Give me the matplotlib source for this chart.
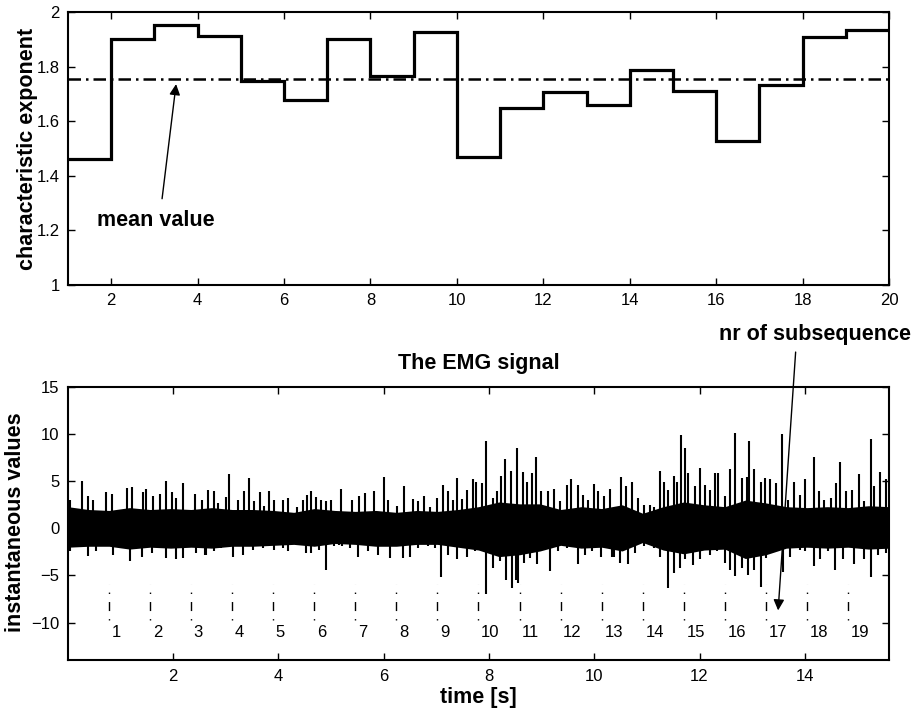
import numpy as np
import matplotlib.pyplot as plt

plt.rcParams['font.family'] = ['Liberation Sans', 'DejaVu Sans']

#characteristic exponent of each subsequence (19 steps between 1 and 20)
seq_edges = np.arange(1, 21)
alpha = [1.463, 1.902, 1.953, 1.913, 1.748, 1.676, 1.902, 1.764, 1.928, 1.470,
         1.647, 1.707, 1.660, 1.789, 1.711, 1.529, 1.731, 1.908, 1.933]

#EMG signal: dense core band plus the visible peaks
total_time = 15.6 #[s]
n_seg = 20
core_t = np.linspace(0, total_time, 41)
core_hi = [2.3, 2.0, 1.9, 2.2, 2.0, 2.1, 2.0, 2.2, 2.0, 2.0, 1.9, 1.7, 2.1, 1.9, 1.8, 1.9,
           1.7, 1.9, 1.8, 2.0, 2.3, 2.8, 2.6, 2.6, 2.0, 2.3, 2.1, 2.5, 1.6, 2.3, 2.8, 2.5,
           2.3, 3.0, 2.7, 2.3, 2.2, 2.3, 2.2, 2.4, 2.3]
core_lo = [-2.0, -1.9, -1.9, -2.2, -2.0, -2.1, -2.0, -2.1, -1.9, -1.9, -1.8, -1.7, -1.9,
           -1.6, -1.7, -1.9, -1.9, -1.7, -1.7, -2.0, -2.3, -3.0, -2.8, -2.4, -1.8, -2.1,
           -2.0, -2.4, -1.5, -2.3, -2.7, -2.3, -2.2, -3.2, -2.8, -2.1, -2.0, -2.1, -2.0,
           -2.2, -2.1]

up_t = [0.04, 0.26, 0.39, 0.48, 0.73, 0.84, 1.02, 1.13, 1.22, 1.42, 1.48, 1.61, 1.75, 1.87,
        1.97, 2.06, 2.19, 2.41, 2.54, 2.67, 2.77, 2.86, 3.00, 3.06, 3.24, 3.35, 3.44, 3.54,
        3.65, 3.73, 3.82, 3.92, 4.08, 4.19, 4.36, 4.46, 4.55, 4.61, 4.71, 4.81, 4.90, 4.99,
        5.19, 5.39, 5.53, 5.65, 5.82, 6.01, 6.09, 6.25, 6.39, 6.56, 6.66, 6.77, 6.88, 7.01,
        7.13, 7.23, 7.32, 7.39, 7.48, 7.58, 7.70, 7.75, 7.86, 7.94, 8.07, 8.16, 8.23, 8.30,
        8.42, 8.53, 8.64, 8.73, 8.81, 8.89, 8.99, 9.13, 9.23, 9.34, 9.48, 9.56, 9.70, 9.78,
        9.88, 9.99, 10.07, 10.19, 10.30, 10.51, 10.61, 10.71, 10.84, 10.94, 11.05, 11.13,
        11.24, 11.32, 11.41, 11.51, 11.57, 11.65, 11.73, 11.79, 11.92, 12.01, 12.11, 12.20,
        12.30, 12.36, 12.49, 12.58, 12.68, 12.80, 12.90, 12.94, 13.04, 13.17, 13.24, 13.33,
        13.46, 13.57, 13.68, 13.80, 13.90, 14.01, 14.18, 14.27, 14.37, 14.50, 14.59, 14.67,
        14.78, 14.90, 15.03, 15.13, 15.26, 15.32, 15.43, 15.54]
up_v = [3.05, 5.07, 3.4, 3.0, 3.9, 3.6, 2.0, 4.3, 4.4, 3.9, 4.2, 3.4, 3.6, 5.0,
        3.9, 3.2, 4.8, 3.6, 3.05, 4.05, 4.0, 2.7, 3.3, 5.8, 3.05, 3.95, 5.35, 2.9,
        3.85, 2.35, 3.95, 3.05, 3.05, 3.2, 2.3, 3.05, 3.55, 3.95, 3.3, 3.05, 2.9, 3.05,
        4.2, 3.05, 3.45, 3.75, 3.95, 5.5, 3.05, 2.4, 4.45, 3.1, 2.9, 3.45, 2.3, 3.2,
        4.65, 3.95, 3.05, 5.35, 3.1, 4.05, 5.2, 4.95, 4.8, 9.26, 3.2, 3.95, 5.6, 7.38,
        6.05, 8.55, 5.95, 4.95, 5.9, 7.55, 3.95, 3.95, 4.2, 2.9, 4.65, 5.25, 4.65, 3.55,
        3.05, 4.7, 3.95, 3.45, 4.2, 5.4, 4.45, 4.95, 3.2, 2.5, 2.5, 2.3,
        6.05, 4.95, 4.1, 5.6, 4.95, 9.86, 8.55, 5.9, 4.45, 6.4, 4.65, 4.1,
        5.9, 5.9, 3.4, 6.25, 10.1, 5.35, 5.5, 9.26, 6.25, 4.95, 5.35, 5.2,
        4.8, 10.0, 3.05, 4.95, 3.55, 5.25, 7.6, 3.95, 3.05, 3.2, 4.8, 7.0,
        3.95, 4.1, 5.75, 2.9, 9.44, 4.45, 5.95, 5.2]

down_t = [0.04, 0.39, 0.54, 0.86, 1.18, 1.40, 1.59, 1.87, 2.06, 2.19, 2.44, 2.60, 2.62, 2.78,
          2.91, 3.13, 3.32, 3.51, 3.70, 3.92, 4.08, 4.19, 4.52, 4.61, 4.77, 4.91, 5.06, 5.15,
          5.20, 5.36, 5.52, 5.71, 5.90, 6.12, 6.37, 6.50, 6.66, 6.85, 6.98, 7.09, 7.23, 7.39,
          7.58, 7.74, 7.78, 7.94, 8.07, 8.20, 8.33, 8.44, 8.52, 8.55, 8.67, 8.78, 8.91, 9.04,
          9.16, 9.32, 9.48, 9.70, 9.83, 9.96, 10.12, 10.34, 10.37, 10.49, 10.65, 10.78, 10.94,
          11.13, 11.25, 11.41, 11.51, 11.63, 11.73, 11.88, 12.01, 12.20, 12.33, 12.49, 12.58,
          12.68, 12.80, 12.92, 13.04, 13.17, 13.27, 13.58, 13.71, 13.90, 14.01, 14.18, 14.28,
          14.44, 14.58, 14.72, 14.94, 15.13, 15.26, 15.39, 15.54]
down_v = [-2.45, -2.98, -2.45, -2.8, -3.5, -3.0, -2.6, -3.1, -3.3, -3.1, -2.6, -2.8, -2.8, -2.45,
          -2.1, -3.0, -2.8, -2.3, -2.1, -2.3, -2.1, -2.45, -2.6, -2.6, -2.3, -4.47, -1.9, -1.75,
          -1.9, -2.1, -3.0, -2.45, -2.8, -3.1, -3.1, -3.0, -2.1, -1.9, -2.1, -5.17, -2.8, -3.2,
          -3.0, -2.45, -1.9, -6.95, -4.2, -3.5, -5.5, -6.3, -5.5, -5.8, -3.7, -3.1, -3.8, -2.3,
          -4.5, -2.45, -2.1, -3.8, -2.8, -2.45, -3.0, -3.0, -3.0, -3.7, -3.8, -2.6, -1.9,
          -2.1, -3.0, -6.3, -4.7, -4.2, -3.3, -3.9, -3.3, -2.8, -2.45, -3.7, -4.4,
          -5.1, -4.2, -4.9, -4.45, -6.25, -3.1, -4.65, -3.0, -2.3, -2.45, -3.95, -3.3,
          -2.45, -4.45, -3.3, -3.8, -3.3, -5.2, -2.8, -2.6]

seg_len = total_time / n_seg
seg_nr = np.arange(1, n_seg)

fig = plt.figure(figsize=(9.16, 7.14), dpi=100)

#top plot: characteristic exponent
ax1 = fig.add_axes([0.0742, 0.6008, 0.8963, 0.3824])
ax1.stairs(alpha, seq_edges, color='k', lw=2.3, baseline=None)
ax1.axhline(np.mean(alpha), color='k', lw=1.8, linestyle=(0, (5, 2, 1, 2)))
ax1.set_xlim(1, 20)
ax1.set_ylim(1, 2)
ax1.set_xticks(np.arange(2, 21, 2))
ax1.set_yticks([1, 1.2, 1.4, 1.6, 1.8, 2])
ax1.set_yticklabels(['1', '1.2', '1.4', '1.6', '1.8', '2'])
ax1.text(1.68, 1.236, 'mean value', fontsize=15.5, fontweight='bold', ha='left', va='center')
ax1.annotate('', xy=(3.51, 1.746), xytext=(3.17, 1.306),
             arrowprops=dict(arrowstyle='-|>', color='k', lw=1, mutation_scale=16))

#bottom plot: EMG signal
ax2 = fig.add_axes([0.0742, 0.0752, 0.8963, 0.3828])
ax2.fill_between(core_t, core_lo, core_hi, color='k', lw=0)
ax2.vlines(up_t, 0, up_v, color='k', lw=1.5)
ax2.vlines(down_t, down_v, 0, color='k', lw=1.5)
ax2.vlines(seg_nr * seg_len, -9.75, -5.9, color='k', lw=1,
           linestyles=[(0, (1, 5.8, 6.5, 5.8, 1, 5.8))])
for k in seg_nr:
    ax2.text(k * seg_len + 0.05, -11.06, str(k), fontsize=12, ha='left', va='center')
ax2.set_xlim(0, total_time)
ax2.set_ylim(-14, 15)
ax2.set_xticks(np.arange(2, 15, 2))
ax2.set_yticks([-10, -5, 0, 5, 10, 15])
ax2.text(14.2, 20.6, 'nr of subsequence', fontsize=15.5, fontweight='bold',
         ha='center', va='center', clip_on=False)
ax2.annotate('', xy=(13.49, -9.0), xytext=(13.83, 19.0), annotation_clip=False,
             arrowprops=dict(arrowstyle='-|>', color='k', lw=1, mutation_scale=16))

for ax in (ax1, ax2):
    ax.tick_params(direction='in', length=5, width=1, top=True, right=True, labelsize=12, pad=6)
    for s in ax.spines.values():
        s.set_linewidth(1.5)

fig.text(28 / 916, 1 - 148.5 / 714, 'characteristic exponent', rotation=90, fontsize=15.5,
         fontweight='bold', ha='center', va='center')
fig.text(16 / 916, 1 - 522 / 714, 'instantaneous values', rotation=90, fontsize=15.5,
         fontweight='bold', ha='center', va='center')
fig.text(478.5 / 916, 1 - 364 / 714, 'The EMG signal', fontsize=15.5, fontweight='bold',
         ha='center', va='center')
fig.text(478.5 / 916, 1 - 698 / 714, 'time [s]', fontsize=15.5, fontweight='bold',
         ha='center', va='center')

fig.savefig('out.png', dpi=100)
